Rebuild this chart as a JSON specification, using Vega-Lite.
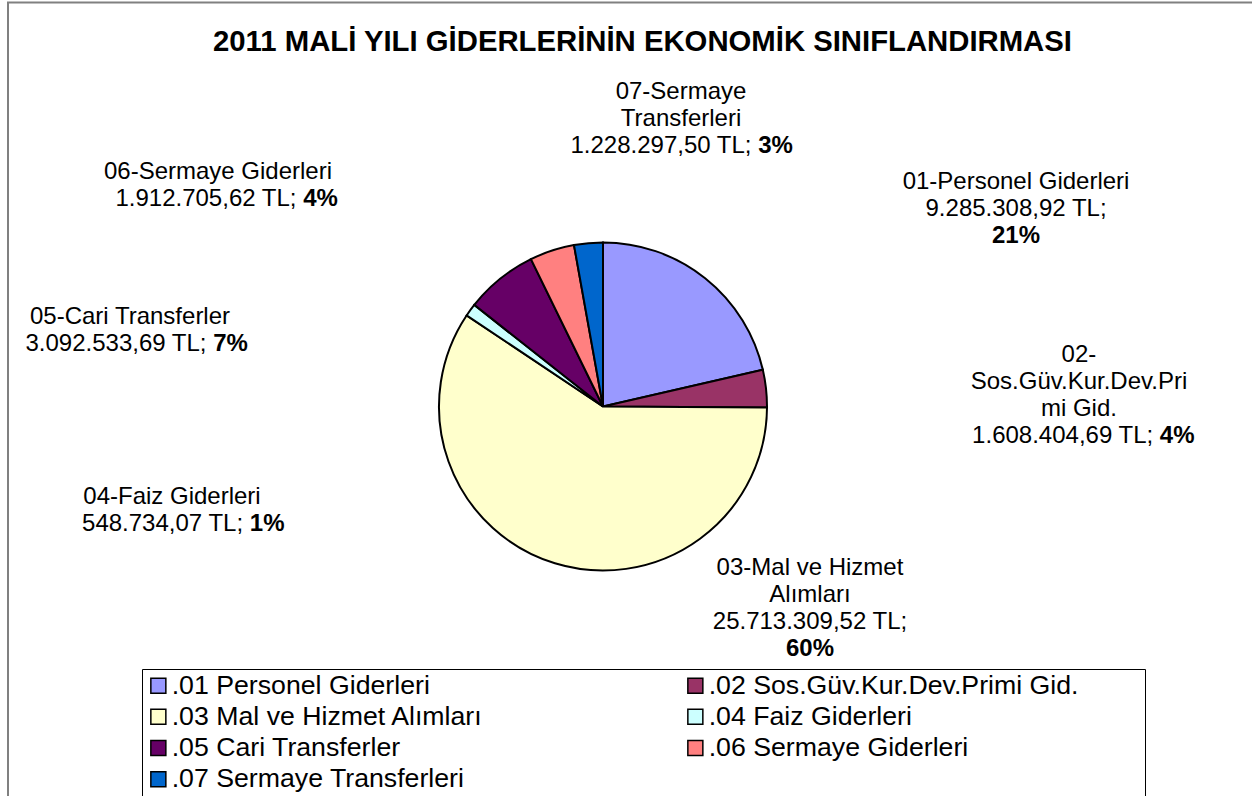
{
  "$schema": "https://vega.github.io/schema/vega-lite/v6.json",
  "width": 1269,
  "height": 850,
  "autosize": {"type": "none"},
  "padding": {"left": 8, "top": 2.5, "right": 0, "bottom": 0},
  "background": "white",
  "view": {"stroke": "#808080", "strokeWidth": 2},
  "title": {
    "text": "2011 MALİ YILI GİDERLERİNİN EKONOMİK SINIFLANDIRMASI",
    "font": "Liberation Sans",
    "fontSize": 29.3,
    "fontWeight": "bold",
    "color": "black",
    "anchor": "middle",
    "frame": "group",
    "offset": 0,
    "baseline": "alphabetic",
    "dy": 78
  },
  "data": {
    "values": [
      {"kod": "01", "kategori": ".01 Personel Giderleri", "etiket": "01-Personel Giderleri", "tutar": 9285308.92, "yuzde": 21},
      {"kod": "02", "kategori": ".02 Sos.Güv.Kur.Dev.Primi Gid.", "etiket": "02-\nSos.Güv.Kur.Dev.Pri\nmi Gid.", "tutar": 1608404.69, "yuzde": 4},
      {"kod": "03", "kategori": ".03 Mal ve Hizmet Alımları", "etiket": "03-Mal ve Hizmet\nAlımları", "tutar": 25713309.52, "yuzde": 60},
      {"kod": "04", "kategori": ".04 Faiz Giderleri", "etiket": "04-Faiz Giderleri", "tutar": 548734.07, "yuzde": 1},
      {"kod": "05", "kategori": ".05 Cari Transferler", "etiket": "05-Cari Transferler", "tutar": 3092533.69, "yuzde": 7},
      {"kod": "06", "kategori": ".06 Sermaye Giderleri", "etiket": "06-Sermaye Giderleri", "tutar": 1912705.62, "yuzde": 4},
      {"kod": "07", "kategori": ".07 Sermaye Transferleri", "etiket": "07-Sermaye\nTransferleri", "tutar": 1228297.50, "yuzde": 3}
    ]
  },
  "transform": [
    {"window": [{"op": "sum", "field": "tutar", "as": "son"}], "sort": [{"field": "kod", "order": "ascending"}], "frame": [null, 0]},
    {"calculate": "datum.son - datum.tutar / 2", "as": "orta"},
    {"calculate": "format(datum.tutar, ',.2f') + ' TL;'", "as": "tutarMetin"},
    {"calculate": "datum.yuzde + '%'", "as": "yuzdeMetin"}
  ],
  "layer": [
    {
      "mark": {"type": "arc", "radius": 164, "stroke": "black", "strokeWidth": 2, "xOffset": -39.5, "yOffset": -21},
      "encoding": {
        "theta": {"field": "tutar", "type": "quantitative", "stack": true},
        "order": {"field": "kod", "type": "ordinal", "sort": "ascending"},
        "color": {
          "field": "kategori",
          "type": "nominal",
          "scale": {
            "domain": [".01 Personel Giderleri", ".02 Sos.Güv.Kur.Dev.Primi Gid.", ".03 Mal ve Hizmet Alımları", ".04 Faiz Giderleri", ".05 Cari Transferler", ".06 Sermaye Giderleri", ".07 Sermaye Transferleri"],
            "range": ["#9999FF", "#993366", "#FFFFCC", "#CCFFFF", "#660066", "#FF8080", "#0066CC"]
          },
          "legend": {
            "orient": "none",
            "legendX": 134,
            "legendY": 666.5,
            "direction": "horizontal",
            "columns": 2,
            "title": "\u00a0",
            "titleOrient": "right",
            "titlePadding": 64,
            "titleFontSize": 12,
            "symbolType": "square",
            "symbolSize": 225,
            "symbolStrokeColor": "black",
            "symbolStrokeWidth": 1.5,
            "symbolOpacity": 1,
            "labelFont": "Liberation Sans",
            "labelFontSize": 26.7,
            "labelColor": "black",
            "labelOffset": 0,
            "labelLimit": 600,
            "columnPadding": 198,
            "rowPadding": 3.3,
            "padding": 3,
            "strokeColor": "black"
          }
        }
      }
    },
    {"transform": [{"filter": "datum.kod === '01'"}], "mark": {"type": "text", "radius": 190, "xOffset": -39.5, "yOffset": -21, "align": "center", "baseline": "alphabetic", "lineBreak": "\n", "lineHeight": 27, "dx": 294.7, "dy": -69.3}, "encoding": {"theta": {"field": "orta", "type": "quantitative", "stack": null}, "text": {"field": "etiket"}}},
    {"transform": [{"filter": "datum.kod === '01'"}], "mark": {"type": "text", "radius": 190, "xOffset": -39.5, "yOffset": -21, "align": "center", "baseline": "alphabetic", "dx": 294.7, "dy": -42.3}, "encoding": {"theta": {"field": "orta", "type": "quantitative", "stack": null}, "text": {"field": "tutarMetin"}}},
    {"transform": [{"filter": "datum.kod === '01'"}], "mark": {"type": "text", "radius": 190, "xOffset": -39.5, "yOffset": -21, "align": "center", "baseline": "alphabetic", "fontWeight": "bold", "dx": 294.7, "dy": -15.3}, "encoding": {"theta": {"field": "orta", "type": "quantitative", "stack": null}, "text": {"field": "yuzdeMetin"}}},

    {"transform": [{"filter": "datum.kod === '02'"}], "mark": {"type": "text", "radius": 190, "xOffset": -39.5, "yOffset": -21, "align": "center", "baseline": "alphabetic", "lineBreak": "\n", "lineHeight": 27, "dx": 287.1, "dy": -23.2}, "encoding": {"theta": {"field": "orta", "type": "quantitative", "stack": null}, "text": {"field": "etiket"}}},
    {"transform": [{"filter": "datum.kod === '02'"}], "mark": {"type": "text", "radius": 190, "xOffset": -39.5, "yOffset": -21, "align": "right", "baseline": "alphabetic", "dx": 361.3, "dy": 57.8}, "encoding": {"theta": {"field": "orta", "type": "quantitative", "stack": null}, "text": {"field": "tutarMetin"}}},
    {"transform": [{"filter": "datum.kod === '02'"}], "mark": {"type": "text", "radius": 190, "xOffset": -39.5, "yOffset": -21, "align": "left", "baseline": "alphabetic", "fontWeight": "bold", "dx": 368.0, "dy": 57.8}, "encoding": {"theta": {"field": "orta", "type": "quantitative", "stack": null}, "text": {"field": "yuzdeMetin"}}},

    {"transform": [{"filter": "datum.kod === '03'"}], "mark": {"type": "text", "radius": 190, "xOffset": -39.5, "yOffset": -21, "align": "center", "baseline": "alphabetic", "lineBreak": "\n", "lineHeight": 27, "dx": 262.7, "dy": -13.6}, "encoding": {"theta": {"field": "orta", "type": "quantitative", "stack": null}, "text": {"field": "etiket"}}},
    {"transform": [{"filter": "datum.kod === '03'"}], "mark": {"type": "text", "radius": 190, "xOffset": -39.5, "yOffset": -21, "align": "center", "baseline": "alphabetic", "dx": 262.7, "dy": 40.4}, "encoding": {"theta": {"field": "orta", "type": "quantitative", "stack": null}, "text": {"field": "tutarMetin"}}},
    {"transform": [{"filter": "datum.kod === '03'"}], "mark": {"type": "text", "radius": 190, "xOffset": -39.5, "yOffset": -21, "align": "center", "baseline": "alphabetic", "fontWeight": "bold", "dx": 262.7, "dy": 67.4}, "encoding": {"theta": {"field": "orta", "type": "quantitative", "stack": null}, "text": {"field": "yuzdeMetin"}}},

    {"transform": [{"filter": "datum.kod === '04'"}], "mark": {"type": "text", "radius": 190, "xOffset": -39.5, "yOffset": -21, "align": "center", "baseline": "alphabetic", "dx": -277.3, "dy": 208.7}, "encoding": {"theta": {"field": "orta", "type": "quantitative", "stack": null}, "text": {"field": "etiket"}}},
    {"transform": [{"filter": "datum.kod === '04'"}], "mark": {"type": "text", "radius": 190, "xOffset": -39.5, "yOffset": -21, "align": "right", "baseline": "alphabetic", "dx": -206.2, "dy": 235.7}, "encoding": {"theta": {"field": "orta", "type": "quantitative", "stack": null}, "text": {"field": "tutarMetin"}}},
    {"transform": [{"filter": "datum.kod === '04'"}], "mark": {"type": "text", "radius": 190, "xOffset": -39.5, "yOffset": -21, "align": "left", "baseline": "alphabetic", "fontWeight": "bold", "dx": -199.5, "dy": 235.7}, "encoding": {"theta": {"field": "orta", "type": "quantitative", "stack": null}, "text": {"field": "yuzdeMetin"}}},

    {"transform": [{"filter": "datum.kod === '05'"}], "mark": {"type": "text", "radius": 190, "xOffset": -39.5, "yOffset": -21, "align": "center", "baseline": "alphabetic", "dx": -353.7, "dy": 64.9}, "encoding": {"theta": {"field": "orta", "type": "quantitative", "stack": null}, "text": {"field": "etiket"}}},
    {"transform": [{"filter": "datum.kod === '05'"}], "mark": {"type": "text", "radius": 190, "xOffset": -39.5, "yOffset": -21, "align": "right", "baseline": "alphabetic", "dx": -277.2, "dy": 91.9}, "encoding": {"theta": {"field": "orta", "type": "quantitative", "stack": null}, "text": {"field": "tutarMetin"}}},
    {"transform": [{"filter": "datum.kod === '05'"}], "mark": {"type": "text", "radius": 190, "xOffset": -39.5, "yOffset": -21, "align": "left", "baseline": "alphabetic", "fontWeight": "bold", "dx": -270.5, "dy": 91.9}, "encoding": {"theta": {"field": "orta", "type": "quantitative", "stack": null}, "text": {"field": "yuzdeMetin"}}},

    {"transform": [{"filter": "datum.kod === '06'"}], "mark": {"type": "text", "radius": 190, "xOffset": -39.5, "yOffset": -21, "align": "center", "baseline": "alphabetic", "dx": -325.9, "dy": -47.4}, "encoding": {"theta": {"field": "orta", "type": "quantitative", "stack": null}, "text": {"field": "etiket"}}},
    {"transform": [{"filter": "datum.kod === '06'"}], "mark": {"type": "text", "radius": 190, "xOffset": -39.5, "yOffset": -21, "align": "right", "baseline": "alphabetic", "dx": -247.4, "dy": -20.4}, "encoding": {"theta": {"field": "orta", "type": "quantitative", "stack": null}, "text": {"field": "tutarMetin"}}},
    {"transform": [{"filter": "datum.kod === '06'"}], "mark": {"type": "text", "radius": 190, "xOffset": -39.5, "yOffset": -21, "align": "left", "baseline": "alphabetic", "fontWeight": "bold", "dx": -240.7, "dy": -20.4}, "encoding": {"theta": {"field": "orta", "type": "quantitative", "stack": null}, "text": {"field": "yuzdeMetin"}}},

    {"transform": [{"filter": "datum.kod === '07'"}], "mark": {"type": "text", "radius": 190, "xOffset": -39.5, "yOffset": -21, "align": "center", "baseline": "alphabetic", "lineBreak": "\n", "lineHeight": 27, "dx": 94.9, "dy": -117.8}, "encoding": {"theta": {"field": "orta", "type": "quantitative", "stack": null}, "text": {"field": "etiket"}}},
    {"transform": [{"filter": "datum.kod === '07'"}], "mark": {"type": "text", "radius": 190, "xOffset": -39.5, "yOffset": -21, "align": "right", "baseline": "alphabetic", "dx": 165.4, "dy": -63.8}, "encoding": {"theta": {"field": "orta", "type": "quantitative", "stack": null}, "text": {"field": "tutarMetin"}}},
    {"transform": [{"filter": "datum.kod === '07'"}], "mark": {"type": "text", "radius": 190, "xOffset": -39.5, "yOffset": -21, "align": "left", "baseline": "alphabetic", "fontWeight": "bold", "dx": 172.1, "dy": -63.8}, "encoding": {"theta": {"field": "orta", "type": "quantitative", "stack": null}, "text": {"field": "yuzdeMetin"}}}
  ],
  "config": {
    "font": "Liberation Sans",
    "view": {"stroke": "#808080", "strokeWidth": 2},
    "locale": {"number": {"decimal": ",", "thousands": ".", "grouping": [3], "currency": ["", " TL"]}},
    "text": {"font": "Liberation Sans", "fontSize": 24, "color": "black"}
  }
}
